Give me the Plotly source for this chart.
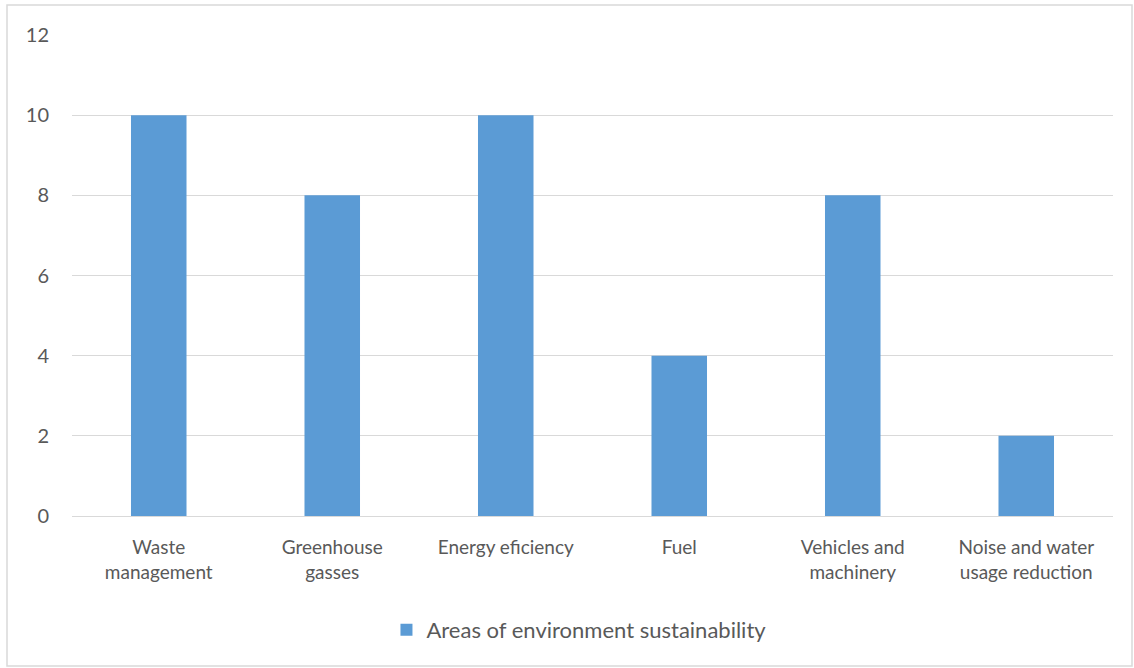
import plotly.graph_objects as go

categories = ["Waste<br>management", "Greenhouse<br>gasses", "Energy eficiency", "Fuel",
              "Vehicles and<br>machinery", "Noise and water<br>usage reduction"]
values = [10, 8, 10, 4, 8, 2]
series_name = "Areas of environment sustainability"
y_ticks = [0, 2, 4, 6, 8, 10, 12]

fig = go.Figure()
fig.add_trace(go.Bar(x=categories, y=values, name=series_name,
                     marker=dict(color="#5b9bd5", line=dict(width=0))))

W, H = 1134, 668
l, r, t, b = 72, 21, 35, 152
pw, ph = W - l - r, H - t - b

def px_x(v):
    return (v - l) / pw

def px_y(v):
    return (H - b - v) / ph

fig.update_layout(
    width=W, height=H,
    margin=dict(l=l, r=r, t=t, b=b),
    paper_bgcolor="white", plot_bgcolor="white",
    font=dict(family="Lato, Open Sans, sans-serif", size=19, color="#595959"),
    bargap=0.68,
    showlegend=True,
    legend=dict(orientation="h", x=0.487, xanchor="center", y=px_y(630), yanchor="middle",
                font=dict(size=22, color="#595959")),
    xaxis=dict(showgrid=False, showline=True, linecolor="#d9d9d9", linewidth=1,
               ticks="", ticklabelstandoff=14, tickfont=dict(size=19)),
    yaxis=dict(range=[0, 12], tickvals=y_ticks, showgrid=True, gridcolor="#d9d9d9",
               gridwidth=1, zeroline=False, showline=False, ticks="",
               ticklabelstandoff=22, tickfont=dict(size=20)),
    shapes=[dict(type="rect", xref="paper", yref="paper",
                 x0=px_x(7), x1=px_x(1132), y0=px_y(666), y1=px_y(5),
                 line=dict(color="#d9d9d9", width=1.5), fillcolor="rgba(0,0,0,0)", layer="below")],
)

fig.write_html("out.html")
